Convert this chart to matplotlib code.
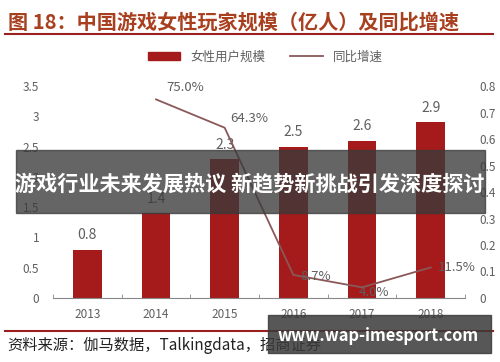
import matplotlib
matplotlib.use("Agg")
import matplotlib.pyplot as plt
from matplotlib.patches import Rectangle
from matplotlib.lines import Line2D

plt.rcParams['font.family'] = ['Noto Sans CJK SC', 'DejaVu Sans']

years = ['2013', '2014', '2015', '2016', '2017', '2018']
users = [0.8, 1.4, 2.3, 2.5, 2.6, 2.9]
growth_years = [1, 2, 3, 4, 5]
growth = [0.750, 0.643, 0.087, 0.040, 0.115]
growth_labels = ['75.0%', '64.3%', '8.7%', '4.0%', '11.5%']

bar_c = '#A51B1B'
line_c = '#8A5858'
grey = '#5F5F5F'

fig = plt.figure(figsize=(5, 3.62), dpi=100)
ax = fig.add_axes([0.106, 0.177, 0.824, 0.585])
x = list(range(len(years)))
ax.bar(x, users, width=0.42, color=bar_c, zorder=2)
for i, v in enumerate(users):
    ax.text(i, v + 0.12, f'{v}', ha='center', va='bottom', fontsize=10, color=grey)
ax.set_xlim(-0.5, 5.5)
ax.set_ylim(0, 3.5)
ax.set_yticks([0, 0.5, 1, 1.5, 2, 2.5, 3, 3.5])
ax.set_yticklabels(['0', '0.5', '1', '1.5', '2', '2.5', '3', '3.5'])
ax.set_xticks(x)
ax.set_xticklabels(years)
ax.set_xticks([i - 0.5 for i in range(len(years) + 1)], minor=True)
ax.tick_params(axis='x', which='major', length=0, pad=7, labelsize=8.5, labelcolor=grey)
ax.tick_params(axis='x', which='minor', length=3, direction='in', color='#888888')
ax.tick_params(axis='y', length=0, pad=10, labelsize=8.5, labelcolor=grey)
for s in ['top', 'left', 'right']:
    ax.spines[s].set_visible(False)
ax.spines['bottom'].set_color('#888888')

ax2 = ax.twinx()
ax2.plot(growth_years, growth, color=line_c, lw=1.3, zorder=3)
ax2.set_ylim(0, 0.8)
ax2.set_yticks([0, 0.1, 0.2, 0.3, 0.4, 0.5, 0.6, 0.7, 0.8])
ax2.set_yticklabels(['0', '0.1', '0.2', '0.3', '0.4', '0.5', '0.6', '0.7', '0.8'])
ax2.tick_params(axis='y', length=0, pad=10, labelsize=8.5, labelcolor=grey)
for s in ['top', 'left', 'right', 'bottom']:
    ax2.spines[s].set_visible(False)
offs = [(0.15, 0.02, 'left', 'bottom'), (0.08, 0.01, 'left', 'bottom'),
        (0.1, -0.005, 'left', 'center'), (-0.05, -0.02, 'left', 'center'),
        (0.1, 0.0, 'left', 'center')]
for xi, yi, lab, (dx, dy, ha, va) in zip(growth_years, growth, growth_labels, offs):
    ax2.text(xi + dx, yi + dy, lab, ha=ha, va=va, fontsize=9.5, color=grey, clip_on=False)

# legend
handles = [Rectangle((0, 0), 1, 1, color=bar_c), Line2D([0], [0], color=line_c, lw=1.3)]
fig.legend(handles, ['女性用户规模', '同比增速'], loc='center', bbox_to_anchor=(0.53, 0.843),
           ncol=2, frameon=False, fontsize=9, handlelength=2.6, handleheight=0.6,
           columnspacing=2.0, labelcolor=grey)

# title and rules
fig.text(0.016, 0.938, '图 18：中国游戏女性玩家规模（亿人）及同比增速', fontsize=14.5,
         fontweight='bold', color='#A8401F', va='center', ha='left')
fig.add_artist(Line2D([0.01, 0.985], [0.905, 0.905], color='#9C1F1F', lw=1.5))
fig.add_artist(Line2D([0.01, 0.985], [0.086, 0.086], color='#9C1F1F', lw=1.5))
fig.text(0.014, 0.046, '资料来源：伽马数据，Talkingdata，招商证券', fontsize=11,
         color='#222222', va='center', ha='left')

# overlay banners
fig.add_artist(Rectangle((0.032, 0.412), 0.938, 0.174, transform=fig.transFigure,
                         color='#3A3A3A', alpha=0.78, zorder=10))
fig.text(0.5, 0.492, '游戏行业未来发展热议 新趋势新挑战引发深度探讨', fontsize=15.2,
         fontweight='bold', color='white', ha='center', va='center', zorder=11)
fig.add_artist(Rectangle((0.536, 0.025), 0.446, 0.105, transform=fig.transFigure,
                         color='#3A3A3A', alpha=0.85, zorder=10))
fig.text(0.756, 0.072, 'www.wap-imesport.com', fontsize=11.8, fontweight='bold',
         color='white', ha='center', va='center', zorder=11)

fig.savefig('out.png', dpi=100)
